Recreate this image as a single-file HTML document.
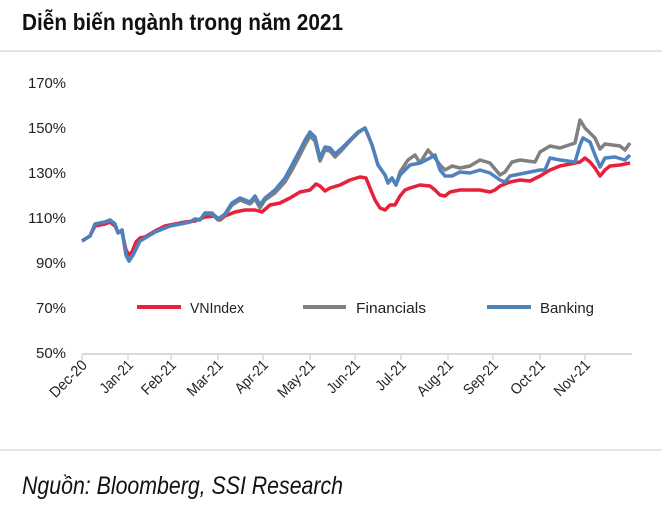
<!DOCTYPE html>
<html><head><meta charset="utf-8"><style>
body{margin:0;background:#fff;width:662px;height:506px;overflow:hidden;font-family:"Liberation Sans",sans-serif}
</style></head><body>
<svg width="662" height="506" xmlns="http://www.w3.org/2000/svg" font-family="Liberation Sans, sans-serif">
<text x="22" y="30" font-size="23" font-weight="bold" fill="#111" textLength="321" lengthAdjust="spacingAndGlyphs">Diễn biến ngành trong năm 2021</text>
<line x1="0" y1="51" x2="662" y2="51" stroke="#c8c8c8" stroke-width="1"/>
<g font-size="15" fill="#222" text-anchor="end">
<text x="66" y="88" textLength="38" lengthAdjust="spacingAndGlyphs">170%</text><text x="66" y="133" textLength="38" lengthAdjust="spacingAndGlyphs">150%</text><text x="66" y="178" textLength="38" lengthAdjust="spacingAndGlyphs">130%</text>
<text x="66" y="223" textLength="38" lengthAdjust="spacingAndGlyphs">110%</text><text x="66" y="268" textLength="30" lengthAdjust="spacingAndGlyphs">90%</text><text x="66" y="313" textLength="30" lengthAdjust="spacingAndGlyphs">70%</text><text x="66" y="358" textLength="30" lengthAdjust="spacingAndGlyphs">50%</text>
</g>
<line x1="82" y1="354" x2="632" y2="354" stroke="#d9d9d9" stroke-width="2"/>
<g stroke="#d9d9d9" stroke-width="1.5">
<line x1="82" y1="354" x2="82" y2="360"/><line x1="128" y1="354" x2="128" y2="360"/><line x1="171" y1="354" x2="171" y2="360"/><line x1="218" y1="354" x2="218" y2="360"/><line x1="263" y1="354" x2="263" y2="360"/><line x1="310" y1="354" x2="310" y2="360"/><line x1="355" y1="354" x2="355" y2="360"/><line x1="401" y1="354" x2="401" y2="360"/><line x1="448" y1="354" x2="448" y2="360"/><line x1="493" y1="354" x2="493" y2="360"/><line x1="540" y1="354" x2="540" y2="360"/><line x1="585" y1="354" x2="585" y2="360"/>
</g>
<g font-size="15" fill="#222" text-anchor="end">
<text transform="translate(88,366) rotate(-45)" textLength="46" lengthAdjust="spacingAndGlyphs">Dec-20</text>
<text transform="translate(134,366) rotate(-45)" textLength="40" lengthAdjust="spacingAndGlyphs">Jan-21</text>
<text transform="translate(177,366) rotate(-45)" textLength="42" lengthAdjust="spacingAndGlyphs">Feb-21</text>
<text transform="translate(224,366) rotate(-45)" textLength="44" lengthAdjust="spacingAndGlyphs">Mar-21</text>
<text transform="translate(269,366) rotate(-45)" textLength="40" lengthAdjust="spacingAndGlyphs">Apr-21</text>
<text transform="translate(316,366) rotate(-45)" textLength="46" lengthAdjust="spacingAndGlyphs">May-21</text>
<text transform="translate(361,366) rotate(-45)" textLength="40" lengthAdjust="spacingAndGlyphs">Jun-21</text>
<text transform="translate(407,366) rotate(-45)" textLength="36" lengthAdjust="spacingAndGlyphs">Jul-21</text>
<text transform="translate(454,366) rotate(-45)" textLength="44" lengthAdjust="spacingAndGlyphs">Aug-21</text>
<text transform="translate(499,366) rotate(-45)" textLength="42" lengthAdjust="spacingAndGlyphs">Sep-21</text>
<text transform="translate(546,366) rotate(-45)" textLength="42" lengthAdjust="spacingAndGlyphs">Oct-21</text>
<text transform="translate(591,366) rotate(-45)" textLength="44" lengthAdjust="spacingAndGlyphs">Nov-21</text>
</g>
<g fill="none" stroke-width="3.5" stroke-linejoin="round">
<polyline stroke="#e8203a" points="82,241 90,236 95,226 105,224 110,222 115,226 118,232 122,232 126,250 129,255 132,252 136,242 140,238 145,237 155,231 165,226 175,224 185,222 195,221 205,217 215,216 220,220 225,216 235,212 245,210 255,210 262,212 270,205 280,203 290,198 300,192 310,190 316,184 320,186 325,191 330,188 340,185 350,180 360,177 366,178 370,188 375,200 380,208 385,210 390,205 395,205 400,196 405,190 410,188 420,185 430,186 435,190 440,195 445,196 450,192 460,190 470,190 480,190 490,192 495,190 500,186 510,182 520,180 530,181 540,176 550,170 560,166 570,164 580,162 585,158 590,162 595,168 600,176 605,170 610,166 620,165 630,163"/>
<polyline stroke="#808080" points="82,241 90,236 95,224 105,222 110,220 115,224 118,233 122,230 126,255 129,261 133,255 138,245 140,241 145,238 155,232 160,230 170,226 180,224 190,222 195,219 200,220 205,213 212,214 218,220 225,215 232,205 240,200 250,204 255,199 260,208 265,200 275,193 285,182 292,170 300,155 305,145 310,136 315,141 320,161 325,150 330,151 335,157 342,150 350,141 358,133 365,128 368,135 372,145 378,165 385,175 388,183 392,178 396,185 400,172 408,160 415,155 420,163 428,150 435,158 440,165 445,170 452,166 460,168 470,166 480,160 490,163 500,175 505,172 512,162 520,160 535,162 540,152 550,146 560,148 575,143 580,120 585,128 595,138 600,149 605,144 620,146 625,150 630,143"/>
<polyline stroke="#4f81bd" points="82,241 90,236 95,224 105,222 110,220 115,224 118,233 122,230 126,255 129,261 133,255 138,245 140,241 145,238 155,232 160,230 170,226 180,224 190,222 195,219 200,220 205,213 212,213 218,219 225,214 232,203 240,198 250,202 255,196 260,205 265,198 275,190 285,178 292,165 300,150 305,140 310,132 315,137 320,158 325,147 330,148 335,154 342,148 350,140 358,132 365,128 368,135 372,145 378,165 385,175 388,183 392,178 396,185 400,175 405,170 410,165 420,163 430,158 435,155 440,170 445,176 452,176 460,172 470,173 480,170 490,173 500,180 505,182 510,176 520,174 530,172 540,170 545,170 550,158 560,160 575,162 580,145 583,138 590,142 595,155 600,167 605,158 615,157 625,160 630,155"/>
</g>
<g stroke-width="4">
<line x1="137" y1="307" x2="181" y2="307" stroke="#e8203a"/>
<line x1="303" y1="307" x2="346" y2="307" stroke="#808080"/>
<line x1="487" y1="307" x2="531" y2="307" stroke="#4f81bd"/>
</g>
<g font-size="15" fill="#222">
<text x="190" y="313" textLength="54" lengthAdjust="spacingAndGlyphs">VNIndex</text><text x="356" y="313" textLength="70" lengthAdjust="spacingAndGlyphs">Financials</text><text x="540" y="313" textLength="54" lengthAdjust="spacingAndGlyphs">Banking</text>
</g>
<line x1="0" y1="450" x2="662" y2="450" stroke="#c8c8c8" stroke-width="1"/>
<text x="22" y="494" font-size="25" font-style="italic" fill="#111" textLength="321" lengthAdjust="spacingAndGlyphs">Nguồn: Bloomberg, SSI Research</text>
</svg>
</body></html>
